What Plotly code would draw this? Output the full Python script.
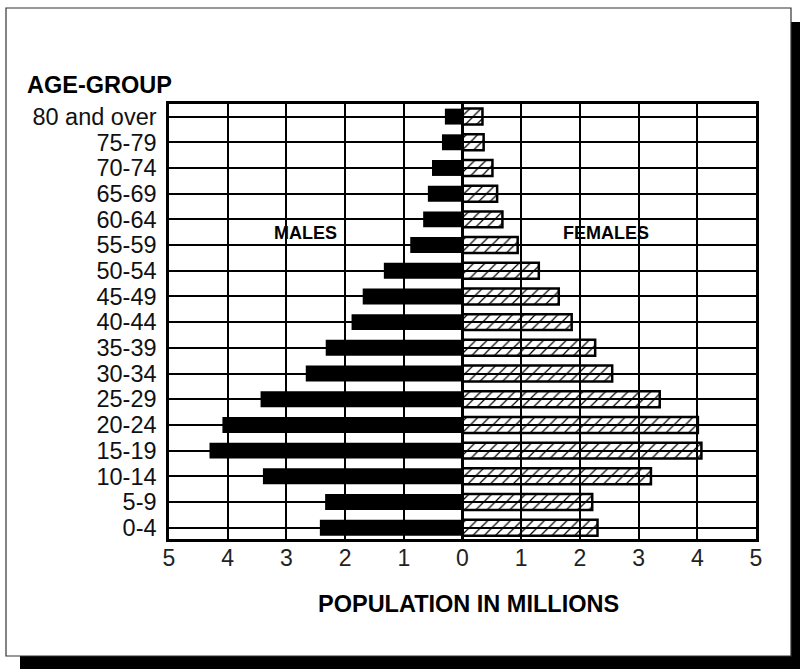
import plotly.graph_objects as go

age_groups = ["0-4", "5-9", "10-14", "15-19", "20-24", "25-29", "30-34", "35-39",
              "40-44", "45-49", "50-54", "55-59", "60-64", "65-69", "70-74",
              "75-79", "80 and over"]
males = [2.43, 2.34, 3.40, 4.31, 4.09, 3.44, 2.67, 2.33, 1.89, 1.70, 1.34,
         0.89, 0.67, 0.59, 0.52, 0.35, 0.30]
females = [2.30, 2.21, 3.21, 4.07, 4.01, 3.36, 2.55, 2.26, 1.86, 1.64, 1.30,
           0.94, 0.68, 0.59, 0.51, 0.36, 0.34]
x_ticks = [-5, -4, -3, -2, -1, 0, 1, 2, 3, 4, 5]
x_tick_labels = [str(abs(v)) for v in x_ticks]

FONT = "Arial, 'Liberation Sans', sans-serif"
L, R, T, B = 169, 756, 104, 539
W, H = R - L, B - T


def px(x):
    return (x - L) / W


def py(y):
    return (B - y) / H


fig = go.Figure()
fig.add_trace(go.Bar(
    y=age_groups, x=[-v for v in males], orientation="h",
    marker=dict(color="black", line=dict(width=0)),
    width=0.62, name="MALES", showlegend=False,
))
fig.add_trace(go.Bar(
    y=age_groups, x=females, orientation="h",
    marker=dict(color="black",
                pattern=dict(shape="/", fillmode="replace", size=8, solidity=0.15),
                line=dict(width=2.5, color="black")),
    width=0.62, name="FEMALES", showlegend=False,
))

fig.update_layout(
    width=800, height=669,
    margin=dict(l=L, r=800 - R, t=T, b=669 - B, pad=0),
    paper_bgcolor="white", plot_bgcolor="white",
    barmode="overlay",
    font=dict(family=FONT, color="black", size=23),
    xaxis=dict(range=[-5, 5], tickmode="array", tickvals=x_ticks, ticktext=x_tick_labels,
               showgrid=True, gridcolor="black", gridwidth=1.5,
               zeroline=True, zerolinecolor="black", zerolinewidth=3,
               showline=True, linecolor="black", linewidth=2.5, mirror=True,
               ticks="", tickfont=dict(size=23, color="#222"),
               ticklabelstandoff=-3, fixedrange=True),
    yaxis=dict(type="category", categoryorder="array", categoryarray=age_groups,
               tickmode="array", tickvals=age_groups, ticktext=age_groups,
               range=[-0.44, 16.49],
               showgrid=True, gridcolor="black", gridwidth=1.5,
               showline=True, linecolor="black", linewidth=2.5, mirror=True,
               ticks="", tickfont=dict(size=23.5, color="#111"),
               ticklabelstandoff=5, fixedrange=True),
    shapes=[
        dict(type="rect", xref="paper", yref="paper", layer="below",
             x0=px(20), x1=px(820), y0=py(690), y1=py(22),
             fillcolor="black", line=dict(width=0)),
        dict(type="rect", xref="paper", yref="paper", layer="below",
             x0=px(6), x1=px(791), y0=py(656), y1=py(8),
             fillcolor="white", line=dict(width=1.2, color="#333")),
    ],
    annotations=[
        dict(text="<b>AGE-GROUP</b>", xref="paper", yref="paper",
             x=px(25), y=py(85), xanchor="left", yanchor="middle",
             showarrow=False, font=dict(size=23.5)),
        dict(text="<b>POPULATION IN MILLIONS</b>", xref="paper", yref="paper",
             x=px(468), y=py(604), xanchor="center", yanchor="middle",
             showarrow=False, font=dict(size=23.5)),
        dict(text="<b>MALES</b>", xref="x", yref="y", x=-2.67, y=11.47,
             showarrow=False, font=dict(size=18)),
        dict(text="<b>FEMALES</b>", xref="x", yref="y", x=2.44, y=11.47,
             showarrow=False, font=dict(size=18)),
    ],
)

fig.write_html("out.html", config={"displayModeBar": False},
               post_script="document.body.style.margin='0';document.body.style.overflow='hidden';")
